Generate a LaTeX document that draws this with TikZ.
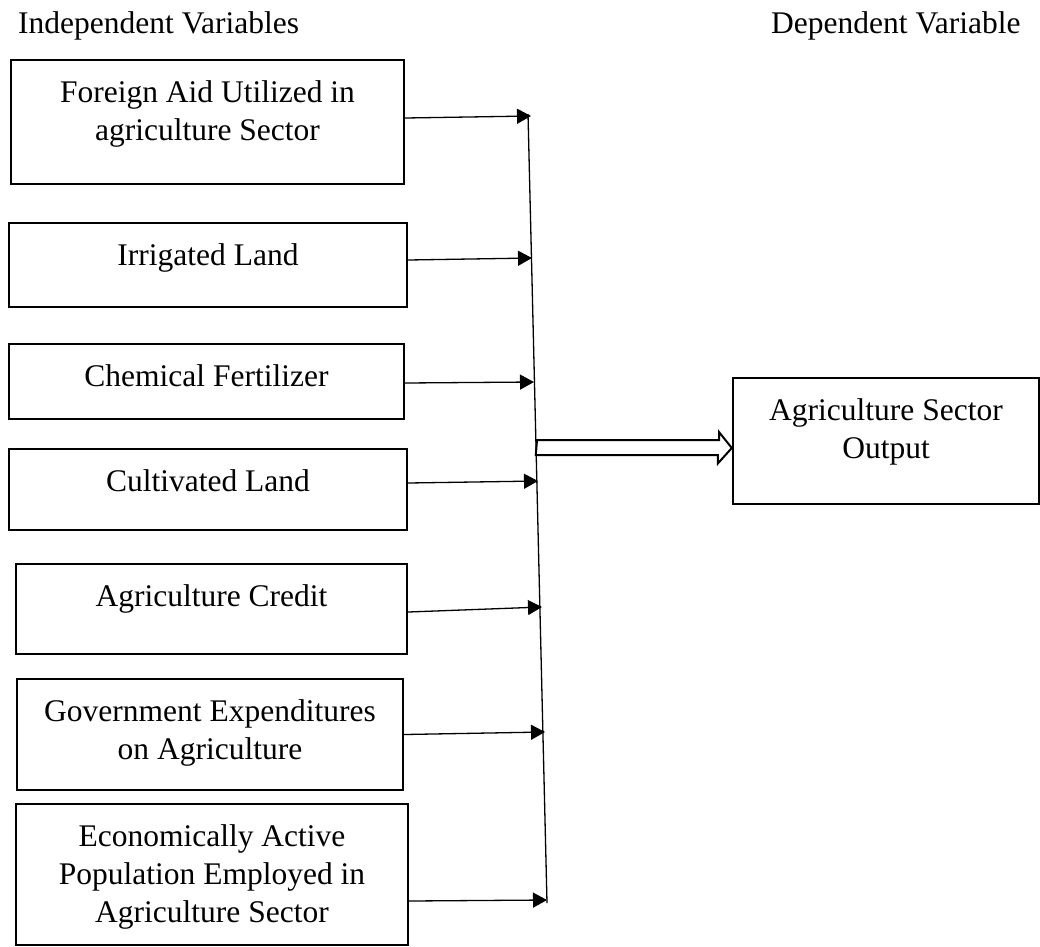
\documentclass[tikz,border=0pt]{standalone}
\usepackage{fontspec}
\setmainfont{Liberation Serif}
\usetikzlibrary{arrows.meta}

\tikzstyle{var} = [rectangle, draw, line width=2.4pt, inner sep=0pt]
\tikzstyle{line} = [draw, line width=1.3pt, -{Triangle[length=14pt, width=15pt]}]
\tikzstyle{hollow} = [draw, line width=2pt, line join=miter]
\newcommand{\toptext}[3][370pt]{\parbox[c][#2][t]{#1}{\centering\vspace*{16pt}\strut #3}}

\begin{document}
\begin{tikzpicture}[x=1pt, y=-1pt, font=\fontsize{31.5}{38}\selectfont]
    \useasboundingbox (0,0) rectangle (1040,946);
    \node [anchor=base west, inner sep=0pt] (Independent) at (18,33) {Independent Variables};
    \node [anchor=base west, inner sep=0pt] (Dependent) at (771,33) {Dependent Variable};

    \node [var, minimum width=393pt, minimum height=124pt] (Foreign) at (207.5,122) {\toptext{124pt}{Foreign Aid Utilized in\\ agriculture Sector}};
    \node [var, minimum width=398pt, minimum height=84pt] (Irrigated) at (208,265) {\toptext{84pt}{Irrigated Land}};
    \node [var, minimum width=395pt, minimum height=75pt] (Fertilizer) at (206.5,381.5) {\toptext{75pt}{Chemical Fertilizer}};
    \node [var, minimum width=398pt, minimum height=81pt] (Cultivated) at (208,489.5) {\toptext{81pt}{Cultivated Land}};
    \node [var, minimum width=391pt, minimum height=90pt] (Credit) at (211.5,609) {\toptext{90pt}{Agriculture Credit}};
    \node [var, minimum width=386pt, minimum height=111pt] (Government) at (210,734.5) {\toptext{111pt}{Government Expenditures\\ on Agriculture}};
    \node [var, minimum width=392pt, minimum height=141pt] (Labour) at (212,874.5) {\toptext{141pt}{Economically Active\\ Population Employed in\\ Agriculture Sector}};
    \node [var, minimum width=306pt, minimum height=126pt] (Output) at (886,441) {\toptext[290pt]{126pt}{Agriculture Sector\\ Output}};

    % collecting line
    \coordinate (Top) at (528,114);
    \coordinate (Bottom) at (547,903);
    \draw [line width=1.3pt] (Top) -- (Bottom);

    \foreach \name/\dy/\tx/\ty in {Foreign/4/531/116, Irrigated/5/532/258, Fertilizer/-1.5/534/382, Cultivated/6.5/538/481, Credit/-3/542/607, Government/0/545/732, Labour/-26.5/547/900}{
        \coordinate (Tip\name) at (\tx,\ty);
        \path [line] ([yshift=\dy pt]\name.east) -- (Tip\name);
    }

    % hollow arrow to the output
    \coordinate (Join) at (537,447.5);
    \path [hollow] (Join) ++(0,-7.5) -- ++(182,0) -- ++(0,-8) -- ([yshift=-7pt]Output.west) -- ++(-14,15.5) -- ++(0,-8.5) -- ++(-182,0) -- cycle;
\end{tikzpicture}
\end{document}
